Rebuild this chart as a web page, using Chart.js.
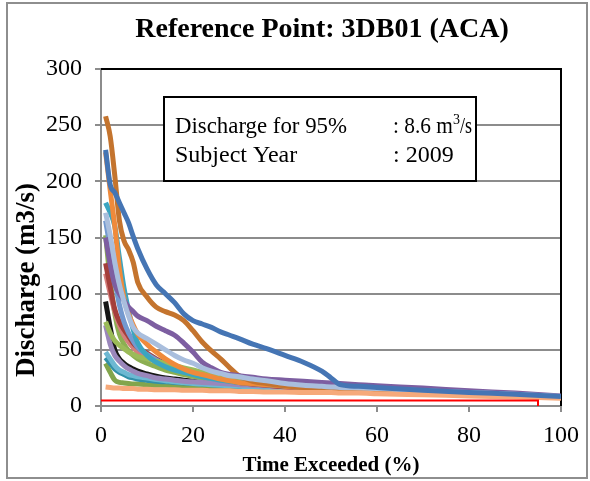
<!DOCTYPE html>
<html>
<head>
<meta charset="utf-8">
<script src="https://cdn.jsdelivr.net/npm/chart.js@4.4.1/dist/chart.umd.min.js"></script>
<style>
  body { margin: 0; background: #fff; }
  #wrap { position: relative; width: 590px; height: 481px; }
  #frame { position: absolute; left: 6px; top: 2px; width: 578px; height: 473px; border: 2px solid #8e8e8e; pointer-events: none; }
</style>
</head>
<body>
<div id="wrap">
  <canvas id="myChart" width="590" height="481"></canvas>
  <div id="frame"></div>
</div>
<script>
const serif = "'Liberation Serif', 'DejaVu Serif', serif";

// time exceeded (%) shared by every year curve
const pct = [1, 2, 3, 4, 5, 6, 7, 8, 10, 12, 14, 16, 18, 20, 22, 24, 26, 28, 30, 33, 36, 40, 44, 48, 50, 52, 56, 60, 70, 80, 90, 100];

// discharge (m3/s), one array per year curve
const blueMain  = [228, 197, 190, 181, 172, 163, 151, 140, 122, 108, 100, 92, 82, 76, 73, 70, 66, 63, 60, 55, 51, 45, 39, 31, 25, 19, 17.5, 16.5, 14, 12, 10.5, 8.5];
const brown     = [258, 240, 205, 165, 147, 139, 128, 110, 97, 88, 84, 81, 76, 67, 57, 49, 42, 34, 27, 22, 20, 18, 16.5, 15.5, 15, 14.5, 14, 13, 11.5, 10, 9, 8];
const orange    = [226, 192, 160, 122, 96, 82, 72, 64, 55, 48, 42, 37, 33, 30, 28, 26, 24, 22.5, 21, 20, 19, 17.5, 16.5, 15.5, 15, 14.5, 14, 13, 11.5, 10, 9, 8];
const cyan      = [181, 172, 160, 132, 105, 85, 68, 56, 45, 39, 35, 32, 30, 28, 26, 24.5, 23, 22, 21, 20, 19, 17.5, 16.5, 15.5, 15, 14.5, 14, 13, 11.5, 10.5, 9, 8];
const lightBlue = [172, 152, 128, 108, 93, 80, 70, 65, 60, 55, 50, 45, 41, 38, 34, 31, 29, 27, 26, 24, 22.5, 20, 18.5, 17.5, 17, 16.5, 16, 15.5, 13.5, 12, 10.5, 8.5];
const purple    = [150, 126, 108, 100, 94, 88, 84, 80, 76, 71, 67, 63, 56, 48, 39, 34, 30, 28, 27, 25.5, 24, 23, 22, 21, 20.5, 20, 19, 18, 16, 13.5, 11.5, 9];
const midBlue   = [165, 140, 112, 90, 75, 65, 58, 52, 46, 41, 37, 34, 32, 30, 28, 26, 24.5, 23, 22, 21, 20, 18.5, 17, 16, 15.5, 15, 14.5, 14, 12.5, 11, 9.5, 8];
const darkRed   = [127, 106, 86, 75, 68, 62, 56, 52, 47, 42, 38, 35, 32, 30, 28, 26, 24, 22.5, 21, 19.5, 18.5, 17, 16, 15.5, 15, 14.5, 14, 13.5, 12, 10.5, 9, 8];
const pinkRed   = [118, 100, 84, 72, 63, 57, 52, 48, 43, 40, 37, 34, 31, 29, 27, 25, 23.5, 22, 21, 19.5, 18.5, 17, 16, 15.5, 15, 14.5, 14, 13.5, 12, 10.5, 9, 8];
const black     = [93, 70, 50, 42, 38, 35, 33, 31, 28.5, 26.5, 25, 24, 23, 22, 21, 20.5, 20, 19.5, 19, 18.5, 18, 17, 16, 15.5, 15, 14.5, 14, 13.5, 12, 10.5, 9, 8];
const green     = [75, 65, 58, 54, 51, 48, 46, 44, 42, 40, 38, 36, 34, 32, 30, 28, 26, 24.5, 23, 21.5, 20.5, 18.5, 17, 16, 15.5, 15, 14.5, 14, 12.5, 11, 9.5, 8];
const olive     = [152, 112, 82, 64, 55, 49, 45, 42, 38, 35, 32, 30, 28, 26.5, 25, 24, 23, 22, 21, 20, 19, 18, 17, 16, 15.5, 15, 14.5, 14, 12.5, 11, 9.5, 8];
const lavender  = [72, 55, 45, 40, 36, 33, 31, 29, 27, 25, 24, 23, 22, 21.5, 21, 20.5, 20, 19.5, 19, 18.5, 18, 17, 16.5, 16, 15.5, 15, 14.5, 14, 12.5, 11, 9.5, 8];
const teal      = [43, 38, 33, 30, 28, 26, 25, 24, 23, 22, 21.5, 21, 20.5, 20, 19.5, 19, 18.5, 18, 17.5, 17, 16.5, 16, 15.5, 15, 14.5, 14, 13.5, 13, 12, 10.5, 9, 8];
const sky       = [48, 42, 36, 32, 30, 28, 27, 26, 25, 23.5, 22.5, 21.5, 21, 20, 19.5, 19, 18.5, 18, 17.5, 17, 16.5, 16, 15.5, 15, 14.5, 14, 13.5, 13, 12, 10.5, 9, 8];
const darkGreen = [38, 30, 23, 21, 20.5, 20, 19.5, 19.5, 19, 18.5, 18.5, 18, 18, 17.5, 17.5, 17, 17, 16.5, 16.5, 16, 16, 15.5, 15, 14.5, 14, 14, 13.5, 13, 12, 10.5, 9, 8];
const salmon    = [17, 16.5, 16, 16, 15.5, 15.5, 15.5, 15, 15, 14.5, 14.5, 14.5, 14, 14, 14, 13.5, 13.5, 13.5, 13, 13, 12.5, 12.5, 12, 12, 12, 11.5, 11.5, 11, 10, 9, 8, 7];

// 95% exceedance marker
const limitX = [0, 95, 95];
const limitY = [5, 5, 0];

const xTicks = [0, 20, 40, 60, 80, 100];
const yTicks = [0, 50, 100, 150, 200, 250, 300];

const titleText = "Reference Point: 3DB01 (ACA)";
const xTitle = "Time Exceeded (%)";
const yTitle = "Discharge (m3/s)";

// first in list = drawn on top
const curves = [
  [blueMain, "#4575b4"],
  [salmon, "#f6a97a"],
  [lightBlue, "#a9bedd"],
  [purple, "#7d5ea1"],
  [brown, "#c4742e"],
  [orange, "#ef8a3b"],
  [cyan, "#3ba5c1"],
  [green, "#9bbb59"],
  [midBlue, "#7399cf"],
  [darkRed, "#a43f3b"],
  [pinkRed, "#d47e7b"],
  [lavender, "#9a87bb"],
  [sky, "#6db8d2"],
  [teal, "#3190a8"],
  [darkGreen, "#82a54c"],
  [olive, "#8caf52"],
  [black, "#161616"],
];

const datasets = [{
  data: limitX.map((x, i) => ({ x: x, y: limitY[i] })),
  borderColor: "#ff0000",
  borderWidth: 2,
  pointRadius: 0,
  tension: 0,
}];
curves.forEach(([vals, color]) => {
  datasets.push({
    data: pct.map((p, i) => ({ x: p, y: vals[i] })),
    borderColor: color,
    borderWidth: 5,
    pointRadius: 0,
    cubicInterpolationMode: "monotone",
  });
});

const extras = {
  id: "extras",
  beforeDatasetsDraw(chart) {
    const { ctx, chartArea: a } = chart;
    ctx.save();
    ctx.strokeStyle = "#000";
    ctx.lineWidth = 2;
    ctx.beginPath();
    ctx.moveTo(a.left, a.top);
    ctx.lineTo(a.right, a.top);
    ctx.lineTo(a.right, a.bottom);
    ctx.stroke();
    ctx.restore();
  },
  afterDraw(chart) {
    const ctx = chart.ctx;
    ctx.save();
    ctx.fillStyle = "#000";

    // chart title
    ctx.font = "bold 28px " + serif;
    ctx.textAlign = "center";
    ctx.textBaseline = "alphabetic";
    ctx.fillText(titleText, 322, 37);

    // y axis title
    ctx.save();
    ctx.translate(27, 280);
    ctx.rotate(-Math.PI / 2);
    ctx.font = "bold 27px " + serif;
    ctx.textAlign = "center";
    ctx.textBaseline = "middle";
    ctx.fillText(yTitle, 0, 0);
    ctx.restore();

    // note box
    ctx.fillStyle = "#fff";
    ctx.fillRect(164, 97, 312, 84);
    ctx.strokeStyle = "#000";
    ctx.lineWidth = 2;
    ctx.strokeRect(164, 97, 312, 84);
    ctx.fillStyle = "#000";
    ctx.font = "24px " + serif;
    ctx.textAlign = "left";
    ctx.fillText("Discharge for 95%", 175, 133, 172);
    ctx.fillText("Subject Year", 175, 162);
    ctx.fillText(": 2009", 393, 162);
    ctx.fillText(": 8.6 m", 393, 133, 60);
    ctx.font = "14px " + serif;
    ctx.fillText("3", 453, 124);
    ctx.font = "24px " + serif;
    ctx.fillText("/s", 460, 133, 12);
    ctx.restore();
  },
};

const chart_ctx = document.getElementById("myChart");
var myChart = new Chart(chart_ctx, {
  type: "line",
  data: { datasets },
  plugins: [extras],
  options: {
    responsive: false,
    animation: false,
    devicePixelRatio: 1,
    layout: { padding: { top: 69, right: 29, left: 0, bottom: 0 } },
    plugins: {
      legend: { display: false },
      tooltip: { enabled: false },
      title: { display: false },
    },
    scales: {
      x: {
        type: "linear",
        min: 0,
        max: 100,
        afterFit: (scale) => { scale.height = 75; },
        afterBuildTicks: (scale) => { scale.ticks = xTicks.map((v) => ({ value: v })); },
        ticks: { color: "#000", font: { family: serif, size: 24 }, padding: 9, maxRotation: 0 },
        grid: { drawOnChartArea: false, drawTicks: true, tickLength: 6, color: "#8c8c8c", lineWidth: 2 },
        border: { display: true, color: "#8c8c8c", width: 2 },
        title: { display: true, text: xTitle, color: "#000", font: { family: serif, size: 21, weight: "bold" }, padding: { top: 0, bottom: 3 } },
      },
      y: {
        min: 0,
        max: 300,
        afterFit: (scale) => { scale.width = 101; },
        afterBuildTicks: (scale) => { scale.ticks = yTicks.map((v) => ({ value: v })); },
        ticks: { color: "#000", font: { family: serif, size: 24 }, padding: 13 },
        grid: { color: "#8c8c8c", lineWidth: 2, tickLength: 6 },
        border: { display: true, color: "#8c8c8c", width: 2 },
      },
    },
  },
});
</script>
</body>
</html>
